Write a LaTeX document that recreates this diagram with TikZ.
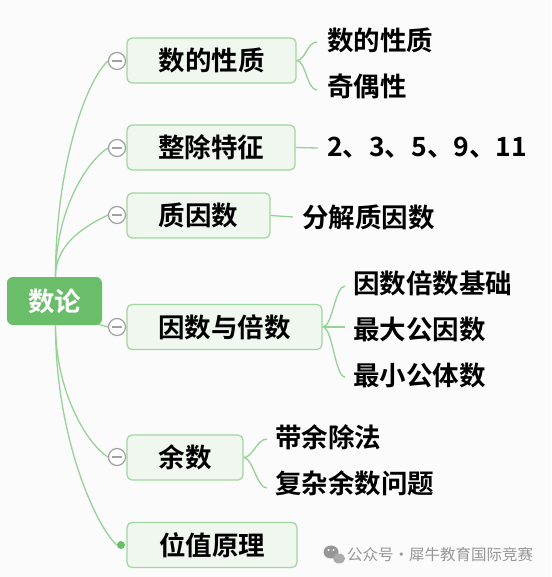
\documentclass[tikz,border=0pt]{standalone}
\usepackage{fontspec}
\newfontfamily\cjk{Noto Sans CJK SC}[BoldFont={Noto Sans CJK SC Bold}]
\usetikzlibrary{backgrounds}
\definecolor{rootgreen}{RGB}{106,190,106}
\definecolor{boxfill}{RGB}{239,247,239}
\definecolor{boxline}{RGB}{160,214,160}
\definecolor{linkgreen}{RGB}{150,210,150}
\definecolor{foldgray}{RGB}{160,160,160}
\definecolor{bg}{RGB}{251,251,251}
\definecolor{wmgray}{RGB}{150,150,150}
\tikzset{
  bigfont/.style={font=\cjk\bfseries\fontsize{26.5}{30}\selectfont},
  mainbox/.style={bigfont, draw=boxline, fill=boxfill, rounded corners=5pt, line width=1.2pt, minimum height=45pt, inner sep=0pt, text=black},
  rootbox/.style={bigfont, fill=rootgreen, rounded corners=6pt, minimum width=95pt, minimum height=48pt, inner sep=0pt, text=white},
  leaf/.style={bigfont, anchor=west, inner sep=0pt, text=black},
  link/.style={draw=linkgreen, line width=1.3pt},
  fold/.style={circle, draw=foldgray, fill=white, line width=1.2pt, minimum size=17pt, inner sep=0pt,
    path picture={\draw[foldgray, line width=1.3pt] ([xshift=-5pt]path picture bounding box.center) -- ([xshift=5pt]path picture bounding box.center);}},
  dotend/.style={circle, fill=rootgreen, minimum size=8pt, inner sep=0pt},
  wmtext/.style={font=\cjk\fontsize{15.5}{18}\selectfont, text=wmgray, anchor=west, inner sep=0pt}
}
\begin{document}
\begin{tikzpicture}[x=1pt,y=-1pt]
\useasboundingbox (0,0) rectangle (551,577);
% root
\node[rootbox] (root) at (54.5,301) {数论};
% main boxes
\node[mainbox, minimum width=169pt] (b1) at (211.5,60.5) {数的性质};
\node[mainbox, minimum width=168pt] (b2) at (211,147.5) {整除特征};
\node[mainbox, minimum width=143pt] (b3) at (198.5,215.5) {质因数};
\node[mainbox, minimum width=195pt] (b4) at (224.5,327) {因数与倍数};
\node[mainbox, minimum width=116pt] (b5) at (185,457.5) {余数};
\node[mainbox, minimum width=170pt] (b6) at (212,545) {位值原理};
% fold markers
\node[fold] (c1) at (117,61) {};
\node[fold] (c2) at (117,148) {};
\node[fold] (c3) at (117,215) {};
\node[fold] (c4) at (117,327) {};
\node[fold] (c5) at (117,457) {};
\node[dotend] (d6) at (121,545) {};
% leaves
\node[leaf] (l11) at (327,40) {数的性质};
\node[leaf] (l12) at (327,86) {奇偶性};
\node[leaf] (l2) at (327,148) {2、3、5、9、11};
\node[leaf] (l3) at (302,217) {分解质因数};
\node[leaf] (l41) at (353,283) {因数倍数基础};
\node[leaf] (l42) at (353,329) {最大公因数};
\node[leaf] (l43) at (353,375) {最小公体数};
\node[leaf] (l51) at (275,437) {带余除法};
\node[leaf] (l52) at (275,483) {复杂余数问题};
% watermark
\node[wmtext] (wm) at (347,555) {公众号·犀牛教育国际竞赛};
\fill[wmgray] (331,552) ellipse [x radius=7.5, y radius=6.5];
\fill[wmgray!80] (339,558.5) ellipse [x radius=6, y radius=5];
\fill[white] (328.5,550) circle (1.1) (333.5,550) circle (1.1);
\begin{scope}[on background layer]
\fill[bg] (0,0) rectangle (551,577);
% root to branches
\draw[link] ([xshift=1pt]root.north) .. controls +(0,-110) and +(-22,20) .. (c1.west);
\draw[link] ([xshift=1pt]root.north) .. controls +(0,-65) and +(-22,14) .. (c2.west);
\draw[link] ([xshift=1pt]root.north) .. controls +(0,-35) and +(-20,10) .. (c3.west);
\draw[link] ([xshift=-4pt,yshift=1pt]root.south east) -- (c4.west);
\draw[link] ([xshift=1pt]root.south) .. controls +(0,65) and +(-22,-14) .. (c5.west);
\draw[link] ([xshift=1pt]root.south) .. controls +(0,110) and +(-22,-20) .. (d6.west);
% branch to leaves
\draw[link] (b1.east) .. controls +(9,0) and +(-10,0) .. ([xshift=-10pt,yshift=-2pt]l11.west);
\draw[link] (b1.east) .. controls +(9,0) and +(-10,0) .. ([xshift=-10pt,yshift=-4pt]l12.west);
\draw[link] (b2.east) -- ([xshift=-9pt]l2.west);
\draw[link] (b3.east) -- ([xshift=-9pt]l3.west);
\draw[link] (b4.east) .. controls +(10,0) and +(-10,0) .. ([xshift=-8pt,yshift=-3pt]l41.west);
\draw[link] (b4.east) -- ([xshift=-8pt]l42.west |- b4.east);
\draw[link] (b4.east) .. controls +(10,0) and +(-10,0) .. ([xshift=-8pt,yshift=-2pt]l43.west);
\draw[link] (b5.east) .. controls +(9,0) and +(-10,0) .. ([xshift=-8pt,yshift=-2pt]l51.west);
\draw[link] (b5.east) .. controls +(9,0) and +(-10,0) .. ([xshift=-8pt,yshift=-5pt]l52.west);
\end{scope}
\end{tikzpicture}
\end{document}
